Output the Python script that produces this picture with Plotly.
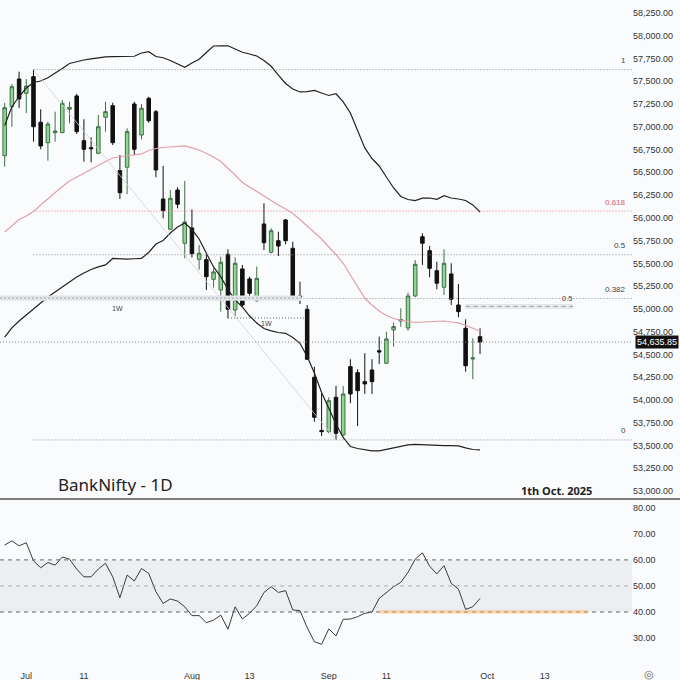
import plotly.graph_objects as go
import pandas as pd

# NSE trading days shown on the chart (holidays: 15 Aug, 27 Aug)
holidays = ["2025-08-15", "2025-08-27"]
days = [d for d in pd.bdate_range("2025-06-26", "2025-09-30") if d.strftime("%Y-%m-%d") not in holidays]
future = list(pd.bdate_range("2025-10-01", "2025-10-31"))
all_days = [d.strftime("%Y-%m-%d") for d in days + future]

opens = [56683, 57221, 57525, 57368, 57551, 57050, 56826, 56936, 56936, 57193,
         57339, 56848, 56771, 56709, 57105, 57232, 56520, 56556, 57251, 56910,
         57313, 57166, 56207, 55875, 56306, 55721, 55889, 55545, 55541, 55325,
         55208, 55600, 54988, 55439, 55329, 55090, 55933, 55622, 55749, 55977,
         55666, 55142, 54996, 54249, 53665, 53652, 54029, 53615, 54366, 54300,
         54201, 54329, 54541, 54403, 54769, 54867, 54790, 55142, 55793, 55640,
         55420, 55238, 55384, 55043, 54787, 54450, 54695]
highs = [57262, 57470, 57606, 57525, 57628, 57193, 57056, 57166, 57295, 57276,
         57361, 57083, 56885, 57130, 57276, 57265, 56691, 56984, 57276, 57251,
         57331, 57185, 56570, 56306, 56336, 56405, 56092, 55702, 55596, 55446,
         55574, 55655, 55567, 55483, 55354, 55464, 56160, 55886, 55848, 55988,
         55738, 55299, 55043, 54366, 54073, 54029, 54154, 54154, 54447, 54337,
         54513, 54447, 54695, 54750, 54849, 55007, 55178, 55537, 55831, 55691,
         55519, 55655, 55501, 55274, 54886, 54677, 54787]
lows = [56562, 57001, 57207, 57152, 56837, 56753, 56628, 56837, 56932, 57039,
        56921, 56617, 56610, 56702, 56947, 56800, 56207, 56262, 56691, 56863,
        57045, 56446, 55995, 55867, 56105, 55556, 55565, 55431, 55208, 55235,
        54970, 54897, 54922, 55025, 55128, 55079, 55647, 55611, 55581, 55710,
        55123, 55054, 54439, 53761, 53604, 53634, 53561, 53604, 53964, 53714,
        54066, 54066, 54395, 54395, 54585, 54805, 54761, 55130, 55483, 55347,
        55216, 55153, 55043, 54908, 54311, 54227, 54505]
closes = [57210, 57441, 57306, 57448, 57001, 56790, 57031, 56954, 57258, 57214,
          56947, 56753, 56760, 57001, 57166, 56826, 56277, 56947, 56753, 57204,
          57067, 56526, 56079, 56215, 56150, 55955, 55607, 55611, 55354, 55406,
          55512, 54996, 55501, 55043, 55172, 55336, 55727, 55859, 55691, 55749,
          55134, 55131, 54447, 53810, 53652, 53992, 53634, 54066, 54066, 54102,
          54176, 54201, 54527, 54670, 54805, 54884, 55142, 55490, 55721, 55446,
          55282, 55501, 55106, 54970, 54376, 54461, 54635.85]

# Bollinger bands (20)
bb_upper = [57015, 57221, 57333, 57426, 57487, 57503, 57538, 57586, 57641, 57696,
            57718, 57734, 57747, 57758, 57768, 57770, 57770, 57770, 57775, 57811,
            57825, 57772, 57759, 57729, 57692, 57654, 57701, 57742, 57816, 57888,
            57890, 57890, 57855, 57819, 57800, 57778, 57729, 57665, 57569, 57476,
            57416, 57383, 57386, 57400, 57372, 57344, 57363, 57273, 57152, 56954,
            56768, 56652, 56570, 56449, 56328, 56235, 56202, 56189, 56216, 56218,
            56204, 56244, 56218, 56207, 56191, 56142, 56065]
bb_mid = [55845, 55911, 55982, 56021, 56070, 56142, 56213, 56279, 56345, 56405,
          56449, 56493, 56531, 56572, 56619, 56658, 56674, 56685, 56691, 56702,
          56740, 56762, 56773, 56779, 56784, 56790, 56768, 56746, 56707, 56669,
          56619, 56548, 56471, 56389, 56339, 56288, 56235, 56191, 56142, 56098,
          56048, 55982, 55911, 55834, 55768, 55680, 55598, 55501, 55373, 55241,
          55117, 55043, 54977, 54928, 54895, 54876, 54862, 54851, 54856, 54860,
          54862, 54867, 54856, 54847, 54818, 54785, 54758]
bb_lower = [54690, 54791, 54867, 54933, 54999, 55065, 55131, 55186, 55241, 55296,
            55351, 55395, 55433, 55461, 55483, 55554, 55548, 55546, 55551, 55556,
            55620, 55713, 55752, 55834, 55900, 55944, 55872, 55768, 55611, 55461,
            55354, 55213, 55098, 55021, 54922, 54846, 54785, 54758, 54741, 54732,
            54686, 54622, 54478, 54296, 54082, 53901, 53736, 53588, 53489, 53467,
            53451, 53440, 53440, 53456, 53478, 53495, 53506, 53513, 53508, 53500,
            53498, 53498, 53498, 53495, 53473, 53456, 53451]

rsi = [65.7, 67.3, 65.4, 66.6, 59.6, 57.0, 59.0, 58.0, 61.1, 60.3,
       56.5, 53.5, 53.5, 56.5, 58.7, 53.5, 45.5, 54.2, 51.9, 56.7,
       54.8, 47.8, 43.3, 45.0, 44.2, 42.0, 38.6, 38.6, 35.9, 36.9,
       38.8, 33.4, 42.0, 37.3, 39.5, 42.4, 47.5, 49.7, 47.5, 48.2,
       40.8, 40.5, 34.0, 28.6, 27.6, 33.5, 30.8, 37.2, 37.3, 38.2,
       39.5, 40.0, 45.2, 47.5, 49.7, 51.4, 55.2, 60.3, 62.7, 57.6,
       54.6, 57.8, 51.0, 48.8, 41.0, 42.0, 45.2]

fib_high, fib_low = 57628, 53561
fib_levels = [1, 0.618, 0.5, 0.382, 0]
weekly_zone = (55090, 55148)
weekly_level = 54900

tick_dates = ["2025-07-01", "2025-07-11", "2025-08-01", "2025-08-13",
              "2025-09-01", "2025-09-11", "2025-10-01", "2025-10-13"]
tick_text = ["Jul", "11", "Aug", "13", "Sep", "11", "Oct", "13"]
price_ticks = list(range(53000, 58251, 250))
rsi_ticks = [30, 40, 50, 60, 70, 80]

x = list(range(len(days)))
tick_idx = [all_days.index(d) for d in tick_dates]
XR = [-0.65, 87.1]
FONT = "Liberation Sans"
DOT = "1px,2px"

fig = go.Figure()
fig.add_trace(go.Scatter(x=x, y=bb_upper, mode="lines", line=dict(color="#222", width=1.2),
                         xaxis="x", yaxis="y", hoverinfo="skip"))
fig.add_trace(go.Scatter(x=x, y=bb_lower, mode="lines", line=dict(color="#222", width=1.2),
                         xaxis="x", yaxis="y", hoverinfo="skip"))
fig.add_trace(go.Scatter(x=x, y=bb_mid, mode="lines", line=dict(color="#e2a0a8", width=1.2),
                         xaxis="x", yaxis="y", hoverinfo="skip"))
fig.add_trace(go.Scatter(x=[4, 46], y=[fib_high, fib_low], mode="lines",
                         line=dict(color="#d0d2d6", width=0.8), xaxis="x", yaxis="y"))
fig.add_trace(go.Candlestick(
    x=x, open=opens, high=highs, low=lows, close=closes,
    increasing=dict(line=dict(color="#3f6f45", width=1), fillcolor="#8fd592"),
    decreasing=dict(line=dict(color="#111111", width=1), fillcolor="#111111"),
    xaxis="x", yaxis="y"))
fig.add_trace(go.Scatter(x=x, y=rsi, mode="lines", line=dict(color="#3a3a3a", width=1),
                         xaxis="x2", yaxis="y2"))

shapes = []
annotations = []
span = fib_high - fib_low
for lv in fib_levels:
    p = fib_low + lv * span
    col = "#e07a8c" if lv == 0.618 else "#8a8a8a"
    shapes.append(dict(type="line", xref="x", yref="y", x0=4, x1=XR[1], y0=p, y1=p,
                       line=dict(color=col, width=1, dash=DOT)))
    annotations.append(dict(xref="paper", yref="y", x=628 / 680, y=p, yshift=9,
                            text=f"{lv:g}", showarrow=False, xanchor="right",
                            font=dict(size=8, color="#d45a72" if lv == 0.618 else "#444", family=FONT)))

# weekly zone and level
shapes.append(dict(type="rect", xref="x", yref="y", x0=XR[0], x1=41.2, y0=weekly_zone[0], y1=weekly_zone[1],
                   fillcolor="#e2e5e8", line=dict(width=0)))
shapes.append(dict(type="line", xref="x", yref="y", x0=XR[0], x1=41.2,
                   y0=sum(weekly_zone) / 2, y1=sum(weekly_zone) / 2,
                   line=dict(color="#9ea3a8", width=1, dash="2px,2px")))
shapes.append(dict(type="line", xref="x", yref="y", x0=31, x1=41.9, y0=weekly_level, y1=weekly_level,
                   line=dict(color="#666", width=1, dash=DOT)))
annotations.append(dict(xref="x", yref="y", x=15.7, y=55000, text="1W", showarrow=False,
                        font=dict(size=7, color="#444", family=FONT)))
annotations.append(dict(xref="x", yref="y", x=36.4, y=54835, text="1W", showarrow=False,
                        font=dict(size=7, color="#444", family=FONT)))

# secondary 0.5 level on the right
shapes.append(dict(type="rect", xref="x", yref="y", x0=64, x1=78.9, y0=55000, y1=55054,
                   fillcolor="#e3e5e8", line=dict(width=0)))
shapes.append(dict(type="line", xref="x", yref="y", x0=64, x1=78.9, y0=55027, y1=55027,
                   line=dict(color="#9ea3a8", width=1, dash="4px,4px")))
annotations.append(dict(xref="x", yref="y", x=78.1, y=55115, text="0.5", showarrow=False,
                        font=dict(size=7.5, color="#444", family=FONT)))

# last price line and label
last = closes[-1]
shapes.append(dict(type="line", xref="x", yref="y", x0=XR[0], x1=XR[1], y0=last, y1=last,
                   line=dict(color="#8a8a8a", width=1, dash=DOT)))
annotations.append(dict(xref="paper", yref="y", x=635 / 680, y=last, xanchor="left",
                        text=f"{last:,.2f}", showarrow=False, bgcolor="#111", borderpad=1,
                        font=dict(size=9, color="#fff", family=FONT)))

# RSI band and levels
shapes.append(dict(type="rect", xref="x2 domain", yref="y2", x0=0, x1=1, y0=40, y1=60,
                   fillcolor="#eceef1", line=dict(width=0), layer="below"))
for lv, col in [(60, "#666"), (50, "#aaa"), (40, "#666")]:
    shapes.append(dict(type="line", xref="x2 domain", yref="y2", x0=0, x1=1, y0=lv, y1=lv,
                       line=dict(color=col, width=1, dash="4px,4px")))
shapes.append(dict(type="rect", xref="x2", yref="y2", x0=52, x1=81, y0=39.3, y1=40.8,
                   fillcolor="rgba(255,180,90,0.45)", line=dict(width=0)))

# panel separator
shapes.append(dict(type="line", xref="paper", yref="paper", x0=0, x1=1, y0=1 - 499 / 680, y1=1 - 499 / 680,
                   line=dict(color="#555", width=1.5)))

annotations.append(dict(xref="paper", yref="paper", x=56 / 680, y=1 - 484 / 680, xanchor="left",
                        yanchor="middle", text="BankNifty - 1D", showarrow=False,
                        font=dict(size=17, color="#222", family="Noto Sans")))
annotations.append(dict(xref="paper", yref="paper", x=519 / 680, y=1 - 490 / 680, xanchor="left",
                        yanchor="middle", text="1th Oct. 2025", showarrow=False,
                        font=dict(size=11, color="#222", family="Noto Sans", weight="bold")))
annotations.append(dict(xref="paper", yref="paper", x=656 / 680, y=1 - 673 / 680, yanchor="middle",
                        text="◎", showarrow=False, font=dict(size=11, color="#666")))

axis_common = dict(showgrid=False, zeroline=False, showline=False)
fig.update_layout(
    width=680, height=680,
    margin=dict(l=0, r=0, t=0, b=0),
    paper_bgcolor="#fafbfc", plot_bgcolor="#fafbfc",
    showlegend=False,
    shapes=shapes, annotations=annotations,
    xaxis=dict(domain=[0, 632 / 680], range=XR, anchor="y", showticklabels=False,
               rangeslider=dict(visible=False), **axis_common),
    xaxis2=dict(domain=[0, 632 / 680], range=XR, anchor="y2", matches="x",
                tickvals=tick_idx, ticktext=tick_text, ticks="outside", ticklen=5,
                tickcolor="rgba(0,0,0,0)",
                tickfont=dict(size=9, color="#333", family=FONT), **axis_common),
    yaxis=dict(domain=[1 - 497 / 680, 1], range=[52934, 58393], side="right", anchor="x",
               tickvals=price_ticks, ticktext=[f"{v:,.2f}" for v in price_ticks], ticks="",
               tickfont=dict(size=9, color="#333", family=FONT), **axis_common),
    yaxis2=dict(domain=[1 - 662 / 680, 1 - 500 / 680], range=[20.8, 83], side="right", anchor="x2",
                tickvals=rsi_ticks, ticktext=[f"{v:.2f}" for v in rsi_ticks], ticks="",
                tickfont=dict(size=9, color="#333", family=FONT), **axis_common),
)

fig.write_html("out.html", config={"displayModeBar": False},
               post_script="document.body.style.margin='0';document.body.style.background='#fafbfc';")
